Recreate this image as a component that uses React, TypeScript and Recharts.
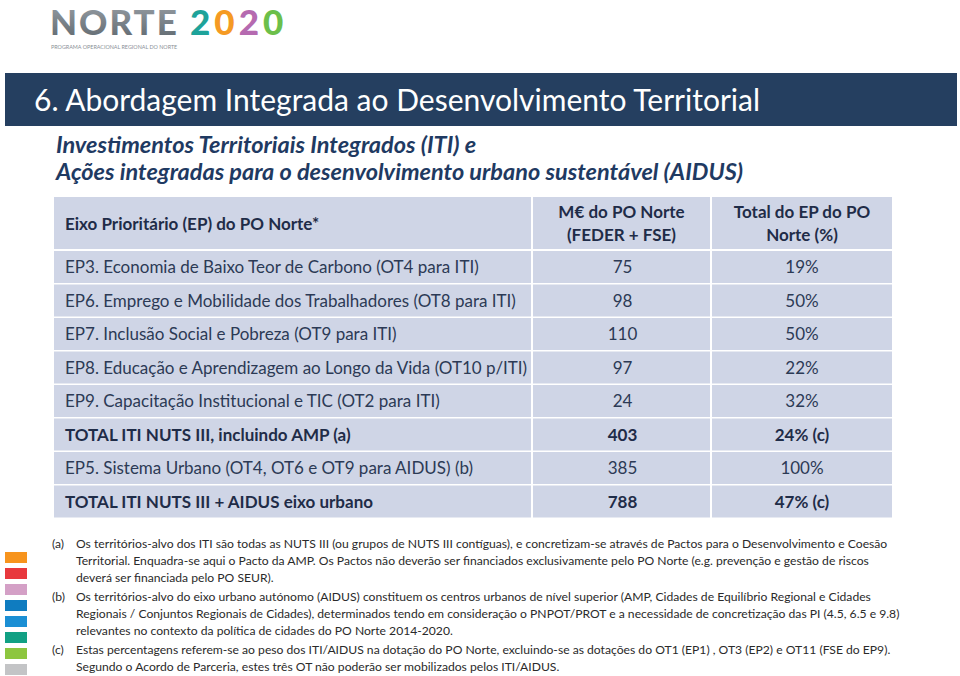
import React from 'react';
import { BarChart, Bar, XAxis, YAxis, LabelList, ReferenceLine } from 'recharts';

const ROW_LABELS = [
  'EP3. Economia de Baixo Teor de Carbono (OT4 para ITI)',
  'EP6. Emprego e Mobilidade dos Trabalhadores (OT8 para ITI)',
  'EP7. Inclusão Social e Pobreza (OT9 para ITI)',
  'EP8. Educação e Aprendizagem ao Longo da Vida (OT10 p/ITI)',
  'EP9. Capacitação Institucional e TIC (OT2 para ITI)',
  'TOTAL ITI NUTS III, incluindo AMP (a)',
  'EP5. Sistema Urbano (OT4, OT6 e OT9 para AIDUS) (b)',
  'TOTAL ITI NUTS III + AIDUS eixo urbano',
];
const MEUR = [75, 98, 110, 97, 24, 403, 385, 788];
const SHARE = ['19%', '50%', '50%', '22%', '32%', '24% (c)', '100%', '47% (c)'];
const TOTAL_ROWS = [false, false, false, false, false, true, false, true];

const HEADERS = [
  ['Eixo Prioritário (EP) do PO Norte*'],
  ['M€ do PO Norte', '(FEDER + FSE)'],
  ['Total do EP do PO', 'Norte (%)'],
];

const TITLE = '6. Abordagem Integrada ao Desenvolvimento Territorial';
const SUBTITLE = [
  'Investimentos Territoriais Integrados (ITI) e',
  'Ações integradas para o desenvolvimento urbano sustentável (AIDUS)',
];

const FOOTNOTES = [
  {
    tag: '(a)',
    lines: [
      'Os territórios-alvo dos ITI são todas as NUTS III (ou grupos de NUTS III contíguas), e concretizam-se através de Pactos para o Desenvolvimento e Coesão',
      'Territorial. Enquadra-se aqui o Pacto da AMP. Os Pactos não deverão ser financiados exclusivamente pelo PO Norte (e.g. prevenção e gestão de riscos',
      'deverá ser financiada pelo PO SEUR).',
    ],
  },
  {
    tag: '(b)',
    lines: [
      'Os territórios-alvo do eixo urbano autónomo (AIDUS) constituem os centros urbanos de nível superior (AMP, Cidades de Equilíbrio Regional e Cidades',
      'Regionais / Conjuntos Regionais de Cidades), determinados tendo em consideração o PNPOT/PROT e a necessidade de concretização das PI (4.5, 6.5 e 9.8)',
      'relevantes no contexto da política de cidades do PO Norte 2014-2020.',
    ],
  },
  {
    tag: '(c)',
    lines: [
      'Estas percentagens referem-se ao peso dos ITI/AIDUS na dotação do PO Norte, excluindo-se as dotações do OT1 (EP1) , OT3 (EP2) e OT11 (FSE do EP9).',
      'Segundo o Acordo de Parceria, estes três OT não poderão ser mobilizados pelos ITI/AIDUS.',
    ],
  },
];

const STRIP_COLORS = ['#f7941d', '#e8383d', '#d4a0c6', '#0f7cc0', '#1b8fd4', '#11a083', '#8dc63f', '#c3c4c6'];

const rows = ROW_LABELS.map((label, i) => ({
  label,
  meur: MEUR[i],
  share: SHARE[i],
}));

const FONT = 'Lato, "Open Sans", sans-serif';
const NAVY = '#253f60';
const CELL = '#cfd5e6';
const TEXT = '#2c3a55';
const BOLD_TEXT = '#1f2c48';

// table geometry
const TABLE_X = 54;
const COL1 = 479;
const COL2 = 179;
const COL3 = 180;
const TABLE_W = COL1 + COL2 + COL3;
const PAD = 11;

const cellText = (col: number) => (props: any) => {
  const { y, height, value, index } = props;
  const bold = TOTAL_ROWS[index];
  const x = col === 0 ? PAD : col === 1 ? COL1 + COL2 / 2 : COL1 + COL2 + COL3 / 2;
  return (
    <text
      x={x}
      y={y + height / 2}
      dy="0.36em"
      textAnchor={col === 0 ? 'start' : 'middle'}
      fontFamily={FONT}
      fontSize={17}
      fontWeight={bold ? 700 : 400}
      fill={bold ? BOLD_TEXT : TEXT}
    >
      {value}
    </text>
  );
};

const Logo = () => (
  <svg width={300} height={52} style={{ position: 'absolute', left: 44, top: 0 }}>
    <defs>
      <linearGradient id="grey" x1="0" y1="0" x2="0" y2="1">
        <stop offset="0" stopColor="#9aa1a7" />
        <stop offset="1" stopColor="#5e676e" />
      </linearGradient>
    </defs>
    <text x={6} y={35} fontFamily={FONT} fontWeight={900} fontSize={35} fill="url(#grey)" letterSpacing={2}>
      NORTE
    </text>
    <text x={146} y={35} fontFamily={FONT} fontWeight={900} fontSize={35} letterSpacing={4}>
      <tspan fill="#1ea39a">2</tspan>
      <tspan fill="#f59a23">0</tspan>
      <tspan fill="#b56ab0">2</tspan>
      <tspan fill="#6cbf4a">0</tspan>
    </text>
    <text x={7} y={49} fontFamily={FONT} fontSize={5.4} fill="#8a9096">
      PROGRAMA OPERACIONAL REGIONAL DO NORTE
    </text>
  </svg>
);

export default function App() {
  return (
    <div
      style={{
        position: 'absolute',
        left: 0,
        top: 0,
        width: 960,
        height: 676,
        background: '#fff',
        fontFamily: FONT,
        overflow: 'hidden',
      }}
    >
      <Logo />
      <div
        style={{
          position: 'absolute',
          left: 5,
          top: 73,
          width: 952,
          height: 53,
          background: NAVY,
          color: '#fff',
          fontSize: 30,
          lineHeight: '53px',
          paddingLeft: 29,
          boxSizing: 'border-box',
          whiteSpace: 'nowrap',
        }}
      >
        {TITLE}
      </div>
      <div
        style={{
          position: 'absolute',
          left: 56,
          top: 131,
          color: '#1f3a62',
          fontStyle: 'italic',
          fontWeight: 700,
          fontSize: 23.5,
          lineHeight: '27px',
          whiteSpace: 'nowrap',
        }}
      >
        {SUBTITLE[0]}
        <br />
        {SUBTITLE[1]}
      </div>

      {/* header row */}
      <div style={{ position: 'absolute', left: TABLE_X, top: 197, height: 52, display: 'flex' }}>
        {HEADERS.map((h, i) => (
          <div
            key={i}
            style={{
              width: [COL1, COL2, COL3][i] - (i < 2 ? 2 : 0),
              marginRight: i < 2 ? 2 : 0,
              height: 52,
              background: CELL,
              color: BOLD_TEXT,
              fontWeight: 700,
              fontSize: 17,
              lineHeight: '23px',
              display: 'flex',
              flexDirection: 'column',
              justifyContent: 'center',
              alignItems: i === 0 ? 'flex-start' : 'center',
              paddingLeft: i === 0 ? PAD : 0,
              boxSizing: 'border-box',
              textAlign: 'center',
            }}
          >
            {h.map((t) => (
              <div key={t}>{t}</div>
            ))}
          </div>
        ))}
      </div>

      <div style={{ position: 'absolute', left: TABLE_X, top: 250 }}>
        <BarChart
          width={TABLE_W}
          height={268}
          data={rows}
          layout="vertical"
          margin={{ top: 0, right: 0, bottom: 0, left: 0 }}
          barCategoryGap={1}
        >
          <XAxis type="number" hide domain={[0, TABLE_W]} />
          <YAxis type="category" dataKey="label" hide />
          <Bar dataKey="meur" fill="none" background={{ fill: CELL }} isAnimationActive={false}>
            <LabelList dataKey="label" content={cellText(0)} />
            <LabelList dataKey="meur" content={cellText(1)} />
            <LabelList dataKey="share" content={cellText(2)} />
          </Bar>
          <ReferenceLine x={COL1 - 1} stroke="#fff" strokeWidth={2} />
          <ReferenceLine x={COL1 + COL2 - 1} stroke="#fff" strokeWidth={2} />
        </BarChart>
      </div>

      {/* colour strip */}
      {STRIP_COLORS.map((c, i) => (
        <div
          key={c + i}
          style={{ position: 'absolute', left: 5, top: 552 + i * 16, width: 22, height: 11, background: c }}
        />
      ))}

      {/* footnotes */}
      <div style={{ position: 'absolute', left: 52, top: 535, color: '#2a2a2a', fontSize: 12.15, lineHeight: '17px' }}>
        {FOOTNOTES.map((f) => (
          <div key={f.tag} style={{ display: 'flex', marginBottom: 2, whiteSpace: 'nowrap' }}>
            <div style={{ width: 24 }}>{f.tag}</div>
            <div>
              {f.lines.map((l) => (
                <div key={l}>{l}</div>
              ))}
            </div>
          </div>
        ))}
      </div>
    </div>
  );
}
